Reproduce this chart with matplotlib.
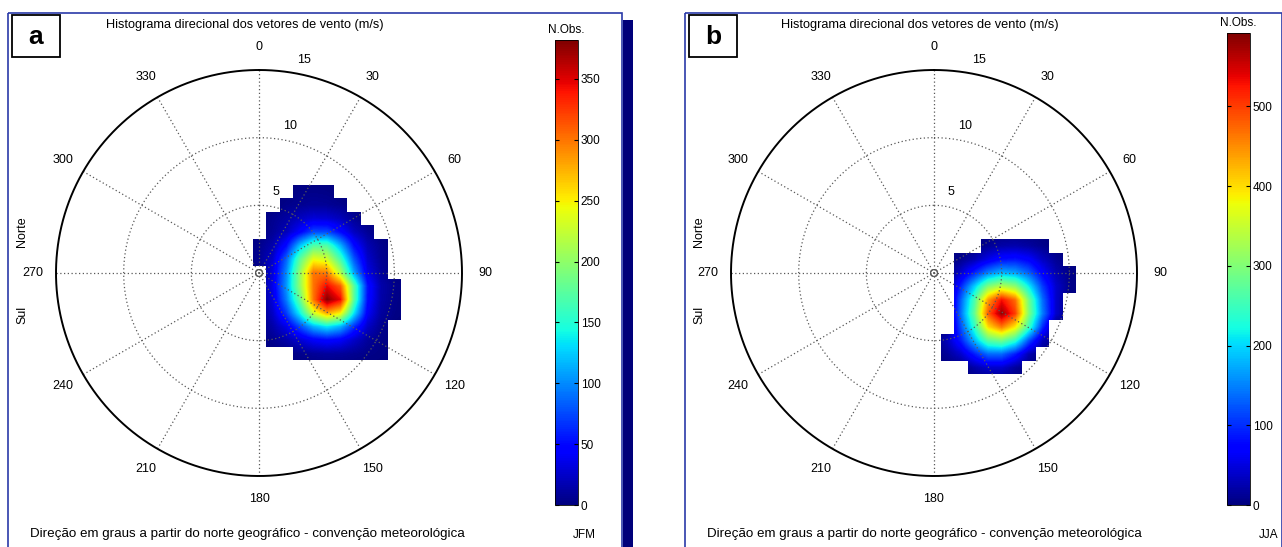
import numpy as np
import matplotlib
matplotlib.use("Agg")
import matplotlib.pyplot as plt
from matplotlib.patches import Rectangle, Circle

plt.rcParams["font.family"] = ["Liberation Sans", "DejaVu Sans"]

W, H = 1282, 547

# wind vector bins (m/s): u = east component, v = north component
u_a = [-1, 0, 1, 2, 3, 4, 5, 6, 7, 8, 9, 10, 11]
v_a = [7, 6, 5, 4, 3, 2, 1, 0, -1, -2, -3, -4, -5, -6, -7]
# N.Obs. per bin, JFM (0 = no observation)
counts_a = [
    [0, 0, 0, 0, 0, 0, 0, 0, 0, 0, 0, 0, 0],
    [0, 0, 0, 0, 3, 4, 3, 0, 0, 0, 0, 0, 0],
    [0, 0, 0, 4, 7, 9, 8, 5, 0, 0, 0, 0, 0],
    [0, 0, 6, 12, 22, 30, 28, 20, 8, 0, 0, 0, 0],
    [0, 0, 8, 20, 45, 75, 75, 50, 22, 8, 0, 0, 0],
    [0, 5, 16, 50, 120, 170, 170, 115, 50, 18, 5, 0, 0],
    [0, 7, 26, 85, 175, 240, 230, 165, 80, 26, 7, 0, 0],
    [0, 0, 32, 100, 200, 300, 295, 215, 110, 35, 10, 0, 0],
    [0, 0, 36, 105, 200, 300, 345, 310, 175, 55, 15, 5, 0],
    [0, 0, 32, 95, 180, 300, 380, 345, 175, 52, 14, 4, 0],
    [0, 0, 24, 70, 140, 230, 280, 250, 135, 42, 11, 3, 0],
    [0, 0, 14, 35, 75, 115, 135, 115, 65, 24, 6, 0, 0],
    [0, 0, 6, 14, 28, 42, 48, 42, 25, 10, 3, 0, 0],
    [0, 0, 0, 0, 5, 9, 11, 10, 7, 4, 2, 0, 0],
    [0, 0, 0, 0, 0, 0, 0, 0, 0, 0, 0, 0, 0],
]

u_b = [0, 1, 2, 3, 4, 5, 6, 7, 8, 9, 10, 11]
v_b = [4, 3, 2, 1, 0, -1, -2, -3, -4, -5, -6, -7, -8]
# N.Obs. per bin, JJA
counts_b = [
    [0, 0, 0, 0, 0, 0, 0, 0, 0, 0, 0, 0],
    [0, 0, 0, 0, 0, 0, 0, 0, 0, 0, 0, 0],
    [0, 0, 0, 0, 12, 22, 25, 18, 8, 0, 0, 0],
    [0, 0, 8, 26, 55, 80, 85, 70, 36, 12, 0, 0],
    [0, 0, 42, 95, 150, 180, 170, 130, 70, 26, 6, 0],
    [0, 0, 95, 195, 300, 340, 310, 215, 110, 40, 8, 0],
    [0, 0, 130, 260, 440, 530, 470, 290, 140, 40, 0, 0],
    [0, 0, 140, 280, 480, 580, 500, 300, 150, 40, 0, 0],
    [0, 0, 120, 240, 400, 460, 390, 250, 100, 0, 0, 0],
    [0, 32, 90, 180, 270, 290, 240, 120, 32, 0, 0, 0],
    [0, 14, 40, 90, 135, 135, 90, 26, 0, 0, 0, 0],
    [0, 0, 0, 22, 40, 40, 16, 0, 0, 0, 0, 0],
    [0, 0, 0, 0, 0, 0, 0, 0, 0, 0, 0, 0],
]

ticks_a = [0, 50, 100, 150, 200, 250, 300, 350]
ticks_b = [0, 100, 200, 300, 400, 500]
vmax_a, vmax_b = 382, 592

dir_labels = [0, 30, 60, 90, 120, 150, 180, 210, 240, 270, 300, 330]
speed_rings = [5, 10, 15]

title = "Histograma direcional dos vetores de vento (m/s)"
caption = "Direção em graus a partir do norte geográfico - convenção meteorológica"

fig = plt.figure(figsize=(W / 100, H / 100), dpi=100)
bg = fig.add_axes([0, 0, 1, 1])
bg.set_xlim(0, W)
bg.set_ylim(H, 0)
bg.axis("off")

SCALE = 203 / 15.0  # px per m/s
HALF = 17.5


def rect(x0, y0, w, h):
    return [x0 / W, (H - y0 - h) / H, w / W, h / H]


def draw_panel(cx, cy, u, v, counts, vmax, ticks, letter, season, x0, x1, cb_box, season_x):
    # frame, letter box and texts
    bg.add_patch(Rectangle((x0, 13), x1 - x0, 540, fill=False, ec="#2a3aa8", lw=1.2))
    bg.add_patch(Rectangle((x0 + 4, 15), 48, 42, fc="white", ec="black", lw=1.3))
    bg.text(x0 + 28, 37, letter, fontsize=19, fontweight="bold", ha="center", va="center")
    bg.text(cx - 14, 25, title, fontsize=9.2, ha="center", va="center")
    bg.text(x0 + 22, 534, caption, fontsize=9.6, ha="left", va="center")
    bg.text(x0 + 14, 232, "Norte", fontsize=9, rotation=90, ha="center", va="center")
    bg.text(x0 + 14, 315, "Sul", fontsize=9, rotation=90, ha="center", va="center")

    half = HALF * SCALE
    ax = fig.add_axes(rect(cx - half, cy - half, 2 * half, 2 * half))
    data = np.array(counts, dtype=float)
    ext = (u[0] - 0.5, u[-1] + 0.5, v[-1] - 0.5, v[0] + 0.5)
    im = ax.imshow(data, cmap="jet", vmin=0, vmax=vmax, interpolation="bilinear",
                   interpolation_stage="data", extent=ext, origin="upper", zorder=1)
    blank = np.zeros(data.shape + (4,))
    blank[data == 0] = (1, 1, 1, 1)
    ax.imshow(blank, interpolation="nearest", extent=ext, origin="upper", zorder=2)

    th = np.linspace(0, 2 * np.pi, 400)
    for r in speed_rings[:-1]:
        ax.plot(r * np.sin(th), r * np.cos(th), ls=(0, (1, 2)), color="0.35", lw=0.9, zorder=3)
    rmax = speed_rings[-1]
    ax.plot(rmax * np.sin(th), rmax * np.cos(th), color="black", lw=1.4, zorder=4)
    for d in dir_labels[:6]:
        a = np.radians(d)
        ax.plot([-rmax * np.sin(a), rmax * np.sin(a)], [-rmax * np.cos(a), rmax * np.cos(a)],
                ls=(0, (1, 2)), color="0.35", lw=0.9, zorder=3)
    for d in dir_labels:
        a = np.radians(d)
        ax.text(16.7 * np.sin(a), 16.7 * np.cos(a), str(d), fontsize=9,
                ha="center", va="center", zorder=5)
    for r in speed_rings:
        a = np.radians(12)
        ax.text((r + 1.1) * np.sin(a), (r + 1.1) * np.cos(a), str(r), fontsize=9,
                ha="center", va="center", zorder=5)
    ax.add_patch(Circle((0, 0), 0.25, fill=False, ec="0.3", lw=0.8, zorder=5))
    ax.set_xlim(-HALF, HALF)
    ax.set_ylim(-HALF, HALF)
    ax.set_aspect("equal")
    ax.axis("off")

    cbx, cby, cbh = cb_box
    cax = fig.add_axes(rect(cbx, cby, 23, cbh))
    cb = fig.colorbar(im, cax=cax, ticks=ticks)
    cb.outline.set_linewidth(0.6)
    cax.tick_params(labelsize=8.5, length=3, direction="in", left=True, right=True, pad=2)
    bg.text(cbx + 11, cby - 10, "N.Obs.", fontsize=8.5, ha="center", va="center")
    bg.text(season_x, 535, season, fontsize=8.5, ha="right", va="center")


draw_panel(259, 273, u_a, v_a, counts_a, vmax_a, ticks_a, "a", "JFM", 8, 622, (555, 40, 465), 596)
draw_panel(934, 273, u_b, v_b, counts_b, vmax_b, ticks_b, "b", "JJA", 685, 1282, (1227, 33, 472), 1278)

# dark shadow bar beside the first panel
bg.add_patch(Rectangle((623, 20), 10, 530, fc="#00007a", ec="none"))

fig.savefig("out.png", dpi=100)
